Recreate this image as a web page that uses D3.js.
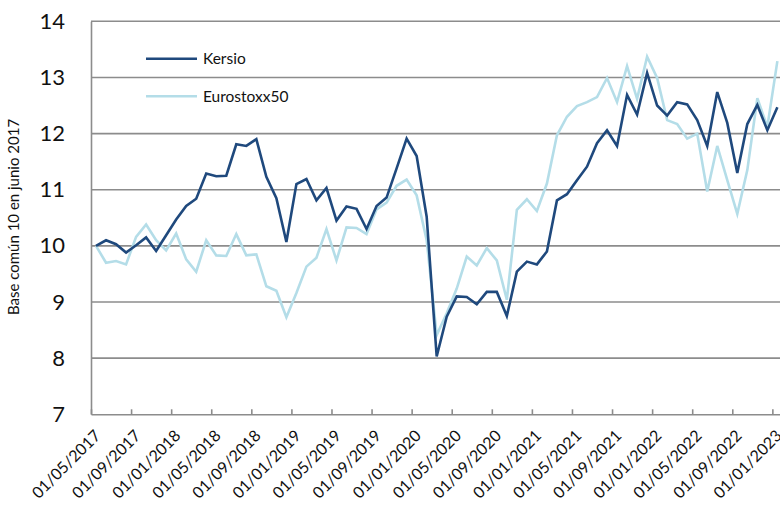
<!DOCTYPE html>
<html>
<head>
<meta charset="utf-8">
<script src="https://cdn.jsdelivr.net/npm/d3@7"></script>
<style>
  html, body { margin: 0; padding: 0; background: #ffffff; }
  svg { display: block; }
  text { font-family: Lato, "Open Sans", sans-serif; fill: #111; }
</style>
</head>
<body>
<svg id="chart" width="780" height="506"></svg>
<script>
// Monthly observations, May 2017 to January 2023 (common base 10)
const kersio = [
  10.00, 10.10, 10.03, 9.88, 10.01, 10.15, 9.91, 10.19, 10.47, 10.71,
  10.84, 11.29, 11.24, 11.25, 11.81, 11.78, 11.90, 11.23, 10.85, 10.07,
  11.10, 11.19, 10.81, 11.03, 10.45, 10.70, 10.66, 10.30, 10.71, 10.86,
  11.38, 11.91, 11.60, 10.52, 8.03, 8.74, 9.10, 9.09, 8.96, 9.18,
  9.18, 8.75, 9.54, 9.72, 9.67, 9.90, 10.81, 10.92, 11.17, 11.41,
  11.83, 12.06, 11.78, 12.69, 12.34, 13.08, 12.50, 12.32, 12.56, 12.52,
  12.24, 11.78, 12.74, 12.19, 11.30, 12.17, 12.51, 12.06, 12.47
];
const eurostoxx50 = [
  10.00, 9.70, 9.73, 9.67, 10.16, 10.38, 10.10, 9.92, 10.22, 9.76,
  9.54, 10.10, 9.83, 9.82, 10.21, 9.83, 9.85, 9.28, 9.20, 8.73,
  9.16, 9.63, 9.79, 10.30, 9.74, 10.33, 10.32, 10.21, 10.65, 10.77,
  11.07, 11.18, 10.90, 10.10, 8.41, 8.80, 9.24, 9.81, 9.65, 9.96,
  9.74, 9.04, 10.64, 10.83, 10.62, 11.11, 11.97, 12.30, 12.49, 12.56,
  12.65, 12.99, 12.56, 13.20, 12.62, 13.37, 12.99, 12.24, 12.17, 11.91,
  12.00, 10.97, 11.78, 11.17, 10.57, 11.35, 12.63, 12.12, 13.29
];
const seriesNames = ["Kersio", "Eurostoxx50"];
const xTickLabels = [
  "01/05/2017", "01/09/2017", "01/01/2018", "01/05/2018", "01/09/2018",
  "01/01/2019", "01/05/2019", "01/09/2019", "01/01/2020", "01/05/2020",
  "01/09/2020", "01/01/2021", "01/05/2021", "01/09/2021", "01/01/2022",
  "01/05/2022", "01/09/2022", "01/01/2023"
];
const yTicks = [7, 8, 9, 10, 11, 12, 13, 14];
const yTitle = "Base común 10 en junio 2017";

const colors = { "Kersio": "#1f497d", "Eurostoxx50": "#b4dde8" };
const gridColor = "#8c8c8c";

const svg = d3.select("#chart");
const plotLeft = 91, plotTop = 21.3, plotBottom = 414.3;
const monthW = 10.02;
const nMonths = kersio.length; // 69

const x = d3.scaleLinear().domain([0, nMonths]).range([plotLeft, plotLeft + nMonths * monthW]);
const y = d3.scaleLinear().domain([7, 14]).range([plotBottom, plotTop]);

// gridlines
svg.append("g").selectAll("line")
  .data(yTicks.filter(v => v > 7))
  .join("line")
  .attr("x1", plotLeft).attr("x2", 780)
  .attr("y1", d => y(d)).attr("y2", d => y(d))
  .attr("stroke", gridColor).attr("stroke-width", 1.6);

// y axis labels
const yAxis = d3.axisLeft(y).tickValues(yTicks).tickSize(0).tickPadding(26).tickFormat(d3.format("d"));
const gy = svg.append("g").attr("transform", `translate(${plotLeft},0)`).call(yAxis);
gy.select(".domain").attr("stroke", gridColor).attr("stroke-width", 1.6);
gy.selectAll("text").style("font-size", "22px").attr("fill", "#111");

// x axis
const tickIdx = xTickLabels.map((_, i) => i * 4);
const xAxis = d3.axisBottom(x).tickValues(tickIdx).tickSizeInner(-5).tickSizeOuter(0)
  .tickFormat((d, i) => xTickLabels[i]);
const gx = svg.append("g").attr("transform", `translate(0,${plotBottom})`).call(xAxis);
gx.select(".domain").attr("stroke", gridColor).attr("stroke-width", 1.6);
gx.selectAll(".tick line").attr("stroke", gridColor).attr("stroke-width", 1.6);
gx.selectAll("text")
  .style("font-size", "16px")
  .attr("fill", "#111")
  .attr("text-anchor", "end")
  .attr("dy", null).attr("y", 0)
  .attr("transform", "translate(10,22.5) rotate(-45)");

// lines
const line = d3.line().x((d, i) => x(i + 0.5)).y(d => y(d));
const data = [
  { name: "Eurostoxx50", values: eurostoxx50 },
  { name: "Kersio", values: kersio }
];
svg.append("g").selectAll("path")
  .data(data)
  .join("path")
  .attr("d", d => line(d.values))
  .attr("fill", "none")
  .attr("stroke", d => colors[d.name])
  .attr("stroke-width", 2.6)
  .attr("stroke-linejoin", "miter");

// legend
const legend = svg.append("g");
seriesNames.forEach((name, i) => {
  const ly = 58.7 + i * 37.6;
  legend.append("line").attr("x1", 146).attr("x2", 197).attr("y1", ly).attr("y2", ly)
    .attr("stroke", colors[name]).attr("stroke-width", 2.6);
  legend.append("text").attr("x", 203).attr("y", ly).attr("dy", "0.36em")
    .style("font-size", "15.5px").text(name);
});

// y title
svg.append("text")
  .attr("transform", "translate(19,217) rotate(-90)")
  .attr("text-anchor", "middle")
  .style("font-size", "15px")
  .text(yTitle);
</script>
</body>
</html>
